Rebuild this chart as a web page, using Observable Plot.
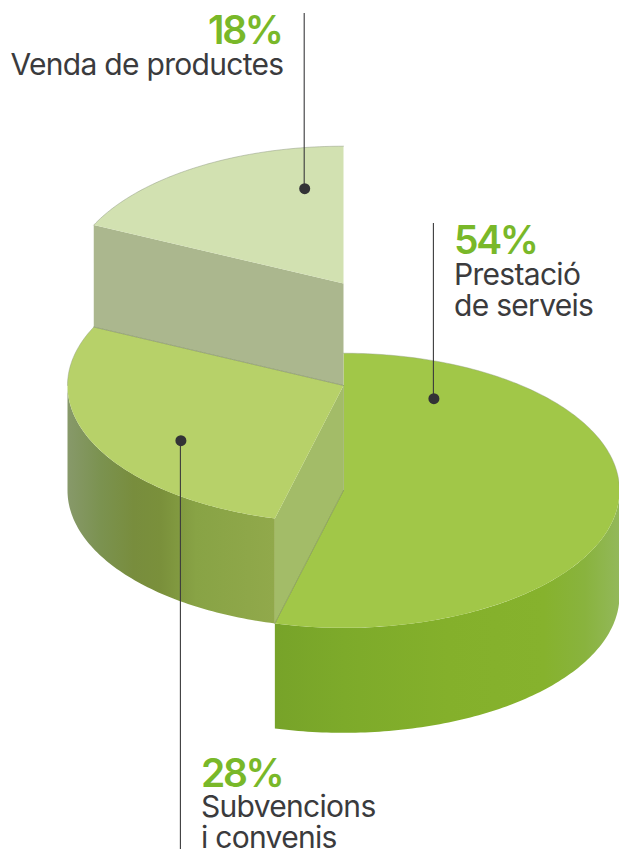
<!DOCTYPE html>
<html>
<head>
<meta charset="utf-8">
<style>
html,body{margin:0;padding:0;background:#fff;overflow:hidden}
svg{display:block}
g[font-size="39"]{letter-spacing:-2.4px}
g[font-size="30"]{letter-spacing:-0.7px}
</style>
<script src="https://cdn.jsdelivr.net/npm/d3@7"></script>
<script src="https://cdn.jsdelivr.net/npm/@observablehq/plot@0.6"></script>
</head>
<body>
<script>
// Data
const categories = ["Prestació de serveis", "Subvencions i convenis", "Venda de productes"];
const shares = [54, 28, 18];
const percentLabels = ["54%", "28%", "18%"];
const nameLines = [["Prestació", "de serveis"], ["Subvencions", "i convenis"], ["Venda de productes"]];

// Layout of the exploded 3D pie (stacked layers)
const W = 619, H = 850;
const cx = 343, rx = 276, ry = 137.3;
const centerY = [490, 385, 283];
const wallH = [105, 105, 102];
const topFill = ["#a1c748", "#b7d169", "#d2e1b1"];
const cutFill = [null, "#a3bc68", "#abb78e"];
const leaderX = [433.4, 180.4, 304.2], leaderTop = [223, 440, 13], leaderBottom = [398, 849, 188];
const dotY = [398.2, 440.2, 188.2];
const labelAnchor = ["start", "start", "end"];
const pctX = [453.5, 200.5, 281];
const nameX = [453.5, 200.5, 283];
const pctBase = [254, 787, 44];
const nameBase = [[285, 316], [817, 848], [75]];

// Angles derived from the shares, clockwise from 12 o'clock
const spans = Array.from(d3.cumsum(shares), (c, i) => [(c - shares[i]) * 3.6, c * 3.6]);
const pt = (i, deg, dy = 0) => {
  const a = deg * Math.PI / 180;
  return {x: cx + rx * Math.sin(a), y: centerY[i] - ry * Math.cos(a) + dy};
};
const arc = (i, a0, a1, dy = 0) => {
  const n = Math.max(2, Math.ceil(Math.abs(a1 - a0)));
  return d3.range(n + 1).map(k => pt(i, a0 + (a1 - a0) * k / n, dy));
};
const apex = (i, dy = 0) => ({x: cx, y: centerY[i] + dy});

const face = (pts, fill) =>
  Plot.line(pts, {x: "x", y: "y", fill, stroke: "none", curve: "linear-closed"});
const edgeLine = (pts, stroke, strokeOpacity = 0.7) =>
  Plot.line(pts, {x: "x", y: "y", stroke, strokeWidth: 0.7, strokeOpacity});

const topFace = i => face([apex(i), ...arc(i, spans[i][0], spans[i][1])], topFill[i]);
const outerWall = (i, a0, a1, fill) =>
  face([...arc(i, a0, a1), ...arc(i, a1, a0, wallH[i])], fill);
const cutWall = (i, deg) =>
  face([pt(i, deg), apex(i), apex(i, wallH[i]), pt(i, deg, wallH[i])], cutFill[i]);

// Label rows
const pctRows = shares.map((s, i) => ({t: percentLabels[i], x: pctX[i], y: pctBase[i], a: labelAnchor[i]}));
const nameRows = nameLines.flatMap((ls, i) => ls.map((t, j) => ({t, x: nameX[i], y: nameBase[i][j], a: labelAnchor[i]})));
const leaders = shares.map((s, i) => ({x: leaderX[i], y1: leaderTop[i], y2: leaderBottom[i], yd: dotY[i]}));

const textMarks = (rows, a, opts) => Plot.text(rows.filter(d => d.a === a), {
  x: "x", y: "y", text: "t", textAnchor: a, lineAnchor: "bottom", fontFamily: "Inter", ...opts
});

const chart = Plot.plot({
  width: W, height: H, margin: 0,
  x: {domain: [0, W], range: [0, W], axis: null},
  y: {domain: [0, H], range: [0, H], axis: null},
  marks: [
    // bottom layer: Prestació de serveis
    outerWall(0, 90, spans[0][1], "url(#wall0)"),
    topFace(0),
    // middle layer: Subvencions i convenis
    outerWall(1, spans[1][0], 270, "url(#wall1)"),
    cutWall(1, spans[1][0]),
    topFace(1),
    // top layer: Venda de productes
    cutWall(2, spans[2][0]),
    topFace(2),
    // thin edges
    edgeLine(arc(0, 0, 90), "#8f9a80", 0.6),
    edgeLine([apex(0), pt(0, spans[0][1])], "#66783f"),
    edgeLine(arc(1, 270, spans[1][1]), "#8f9a80", 0.6),
    edgeLine([pt(1, spans[1][1]), apex(1)], "#6f7d55"),
    edgeLine(arc(2, spans[2][0], 360), "#8f9a80", 0.7),
    edgeLine([apex(1), apex(1, wallH[1])], "#7f8f60", 0.4),
    // leaders
    Plot.ruleX(leaders, {x: "x", y1: "y1", y2: "y2", stroke: "#3a3a3c", strokeWidth: 1.1, dx: -0.5}),
    Plot.dot(leaders, {x: "x", y: "yd", r: 5.5, fill: "#333336", stroke: "none"}),
    // labels
    ...["start", "end"].flatMap(a => [
      textMarks(pctRows, a, {fontSize: 39, fontWeight: 600, fill: "#79b829", dy: -1}),
      textMarks(nameRows, a, {fontSize: 30, fontWeight: 400, fill: "#3b3b3d", dy: -0.5})
    ])
  ]
});

// Gradients used by the curved walls
const defs = d3.select(chart).insert("defs", ":first-child");
const grad = (id, stops) => {
  const g = defs.append("linearGradient").attr("id", id).attr("x1", 0).attr("x2", 1).attr("y1", 0).attr("y2", 0);
  stops.forEach(([o, c]) => g.append("stop").attr("offset", o).attr("stop-color", c));
};
grad("wall0", [[0, "#77a329"], [0.2, "#7daa2a"], [0.5, "#84b02b"], [0.78, "#86b22d"], [0.9, "#89b33e"], [1, "#93b85a"]]);
grad("wall1", [[0, "#87996a"], [0.16, "#7b9250"], [0.32, "#788d3d"], [0.45, "#7a903b"], [0.62, "#88a345"], [1, "#91a94b"]]);

document.body.appendChild(chart);
</script>
</body>
</html>
